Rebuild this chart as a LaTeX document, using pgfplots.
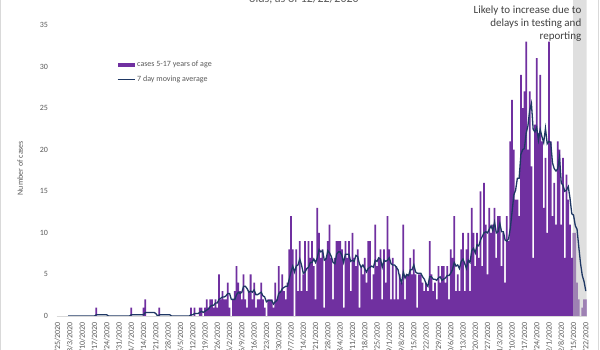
\documentclass[border=0pt]{standalone}
\usepackage{pgfplots}
\pgfplotsset{compat=1.18}
\usepackage{fontspec}
\setmainfont{Carlito}
\definecolor{barpurple}{HTML}{7030A0}
\definecolor{manavy}{HTML}{1F3864}
\definecolor{txtgray}{HTML}{595959}
\definecolor{annogray}{HTML}{404040}
\definecolor{shade}{HTML}{C4C4C4}
\definecolor{axisgray}{HTML}{D9D9D9}
\begin{document}
\begin{tikzpicture}[x=1pt,y=1pt]
\begin{axis}[
  scale only axis,
  width=530pt, height=316pt,
  xmin=-0.5, xmax=301.5, ymin=0, ymax=38,
  enlargelimits=false,
  /pgf/number format/assume math mode=true,
  axis x line*=bottom, axis y line*=left,
  y axis line style={draw=none},
  x axis line style={draw=axisgray, line width=0.8pt, -},
  major tick length=0pt,
  ytick={0,5,...,35},
  xtick={0,7,...,301},
  xticklabels={2/25/2020,3/3/2020,3/10/2020,3/17/2020,3/24/2020,3/31/2020,4/7/2020,4/14/2020,4/21/2020,4/28/2020,5/5/2020,5/12/2020,5/19/2020,5/26/2020,6/2/2020,6/9/2020,6/16/2020,6/23/2020,6/30/2020,7/7/2020,7/14/2020,7/21/2020,7/28/2020,8/4/2020,8/11/2020,8/18/2020,8/25/2020,9/1/2020,9/8/2020,9/15/2020,9/22/2020,9/29/2020,10/6/2020,10/13/2020,10/20/2020,10/27/2020,11/3/2020,11/10/2020,11/17/2020,11/24/2020,12/1/2020,12/8/2020,12/15/2020,12/22/2020},
  xticklabel style={rotate=90, anchor=east, inner xsep=6pt, inner ysep=0pt, font=\fontsize{8}{9.6}\selectfont, text=txtgray},
  yticklabel style={anchor=east, inner xsep=8.5pt, inner ysep=0pt, font=\fontsize{8}{9.6}\selectfont, text=txtgray},
  ylabel={Number of cases},
  every axis y label/.style={at={(axis description cs:-0.069,0.468)}, rotate=90, anchor=center, font=\fontsize{8}{9.6}\selectfont, text=txtgray},
  legend style={at={(axis description cs:0.1132,0.808)}, anchor=north west, draw=none, fill=none, inner sep=0pt,
    font=\fontsize{8}{9.6}\selectfont, text=txtgray, row sep=6.5pt, nodes={inner xsep=2pt, inner ysep=0.5pt}},
  legend cell align=left,
]
\addplot[ybar, bar width=1, bar shift=0pt, fill=barpurple, draw=none,
  legend image code/.code={\fill[barpurple] (0pt,-1.7pt) rectangle (17pt,1.7pt);}]
coordinates {(22,1)(42,1)(49,1)(50,2)(58,1)(76,1)(78,1)(81,1)(82,1)(84,1)(85,2)(86,1)(87,2)(88,2)(89,1)(90,2)(91,1)(92,5)(93,2)(94,3)(95,2)(96,2)(97,4)(98,1)(100,2)(101,3)(102,6)(103,4)(104,3)(105,2)(106,5)(107,2)(108,1)(109,3)(110,5)(111,2)(112,4)(113,1)(114,2)(115,2)(116,4)(117,2)(118,1)(120,2)(121,2)(122,2)(123,1)(124,4)(125,2)(126,6)(127,3)(128,5)(129,3)(130,2)(131,4)(132,8)(133,12)(134,8)(136,8)(137,3)(138,9)(139,3)(140,5)(141,9)(142,3)(143,9)(144,7)(145,9)(146,6)(147,2)(148,13)(149,10)(150,7)(151,8)(152,1)(153,7)(154,9)(155,11)(156,7)(157,2)(158,7)(159,9)(160,9)(161,9)(162,8)(163,1)(164,9)(165,7)(166,9)(167,3)(168,10)(169,7)(170,6)(171,8)(172,1)(173,6)(174,5)(175,7)(176,4)(177,9)(178,9)(179,2)(180,5)(181,11)(182,6)(183,7)(184,8)(185,2)(186,8)(187,4)(188,12)(189,8)(190,2)(191,7)(192,2)(193,6)(194,2)(195,5)(196,4)(197,11)(198,2)(199,5)(200,5)(201,7)(202,5)(203,8)(204,5)(205,1)(206,5)(207,5)(208,4)(209,3)(210,4)(211,3)(212,9)(213,5)(214,3)(215,4)(216,2)(217,6)(218,4)(219,6)(220,6)(221,4)(222,6)(223,2)(224,8)(225,7)(226,12)(227,3)(228,5)(229,3)(230,8)(231,10)(232,3)(233,8)(234,10)(235,3)(236,13)(237,10)(238,6)(239,10)(240,7)(241,15)(242,6)(243,16)(244,11)(245,5)(246,13)(247,10)(248,11)(249,13)(250,7)(251,12)(252,12)(253,6)(254,10)(255,4)(256,12)(257,9)(258,21)(259,26)(260,20)(261,14)(262,14)(263,12)(264,29)(265,25)(266,27)(267,33)(268,20)(269,27)(270,18)(271,7)(272,23)(273,31)(274,22)(275,29)(276,21)(277,13)(278,19)(279,10)(280,33)(281,21)(282,12)(283,16)(284,11)(285,21)(286,20)(287,11)(288,19)(289,7)(290,17)(291,14)(292,11)(293,7)(294,10)(295,10)(296,4)(297,2)(299,1)(300,2)(301,2)};
\addlegendentry{cases 5-17 years of age}
\addplot[fill=shade, fill opacity=0.55, draw=none, forget plot] coordinates {(293.5,38) (301.5,38)} \closedcycle;
\addplot[manavy, line width=1.3pt, no markers,
  legend image code/.code={\draw[manavy, line width=1.3pt] (0pt,0pt) -- (17pt,0pt);}]
coordinates {(6,0)(21,0)(22,0.14)(28,0.14)(29,0)(41,0)(42,0.14)(49,0.14)(50,0.43)(55,0.43)(56,0.29)(57,0)(58,0.14)(64,0.14)(65,0)(75,0)(76,0.14)(77,0.14)(78,0.29)(79,0.29)(80,0.29)(81,0.43)(82,0.57)(83,0.43)(84,0.57)(85,0.71)(86,0.86)(87,1.14)(88,1.29)(89,1.29)(90,1.57)(91,1.57)(92,2.0)(93,2.14)(94,2.29)(95,2.29)(96,2.43)(97,2.71)(98,2.71)(99,2.0)(100,2.0)(101,2.0)(102,2.57)(103,2.86)(104,2.71)(105,2.86)(106,3.57)(107,3.57)(108,3.29)(109,2.86)(110,3.0)(111,2.86)(112,3.14)(113,2.57)(114,2.57)(115,2.71)(116,2.86)(117,2.43)(118,2.29)(119,1.71)(120,1.86)(121,1.86)(122,1.86)(123,1.43)(124,1.71)(125,1.86)(126,2.71)(127,2.86)(128,3.29)(129,3.43)(130,3.57)(131,3.57)(132,4.43)(133,5.29)(134,6.0)(135,5.29)(136,6.0)(137,6.14)(138,6.86)(139,6.14)(140,5.14)(141,5.29)(142,5.71)(143,5.86)(144,6.43)(145,6.43)(146,6.86)(147,6.43)(148,7.0)(149,8.0)(150,7.71)(151,7.86)(152,6.71)(153,6.86)(154,7.86)(155,7.57)(156,7.14)(157,6.43)(158,6.29)(159,7.43)(160,7.71)(161,7.71)(162,7.29)(163,6.43)(164,7.43)(165,7.43)(166,7.43)(167,6.57)(168,6.71)(169,6.57)(170,7.29)(171,7.14)(172,6.29)(173,5.86)(174,6.14)(175,5.71)(176,5.29)(177,5.71)(178,5.86)(179,6.0)(180,5.86)(181,6.71)(182,6.57)(183,7.0)(184,6.86)(185,5.86)(186,6.71)(187,6.57)(188,6.71)(189,7.0)(190,6.29)(191,6.14)(192,6.14)(193,5.86)(194,5.57)(195,4.57)(196,4.0)(197,5.29)(198,4.57)(199,5.0)(200,4.86)(201,5.57)(202,5.57)(203,6.14)(204,5.29)(205,5.14)(206,5.14)(207,5.14)(208,4.71)(209,4.43)(210,3.86)(211,3.57)(212,4.71)(213,4.71)(214,4.43)(215,4.43)(216,4.29)(217,4.57)(218,4.71)(219,4.29)(220,4.43)(221,4.57)(222,4.86)(223,4.86)(224,5.14)(225,5.57)(226,6.43)(227,6.0)(228,6.14)(229,5.71)(230,6.57)(231,6.86)(232,6.29)(233,5.71)(234,6.71)(235,6.43)(236,7.86)(237,8.14)(238,7.57)(239,8.57)(240,8.43)(241,9.14)(242,9.57)(243,10.0)(244,10.14)(245,10.0)(246,10.43)(247,10.86)(248,10.29)(249,11.29)(250,10.0)(251,10.14)(252,11.14)(253,10.14)(254,10.14)(255,9.14)(256,9.0)(257,9.29)(258,10.57)(259,12.57)(260,14.57)(261,15.14)(262,16.57)(263,16.57)(264,19.43)(265,20.0)(266,20.14)(267,22.0)(268,22.86)(269,24.71)(270,25.57)(271,22.43)(272,22.14)(273,22.71)(274,21.14)(275,22.43)(276,21.57)(277,20.86)(278,22.57)(279,20.71)(280,21.0)(281,20.86)(282,18.43)(283,17.71)(284,17.43)(285,17.71)(286,19.14)(287,16.0)(288,15.71)(289,15.0)(290,15.14)(291,15.57)(292,14.14)(293,12.29)(294,12.14)(295,10.86)(296,10.43)(297,8.29)(298,6.29)(299,4.86)(300,4.14)(301,3.0)};
\addlegendentry{7 day moving average}
\coordinate (O) at (axis cs:-0.5,0);
\end{axis}
\pgfresetboundingbox
\path[use as bounding box] ([shift={(-56.7,-34)}]O) rectangle ([shift={(543.3,316)}]O);
\draw[axisgray, line width=0.8pt] ([shift={(-55.9,-44)}]O) -- ([shift={(-55.9,326)}]O);
\draw[axisgray, line width=0.8pt] ([shift={(541.9,-44)}]O) -- ([shift={(541.9,326)}]O);
\node[anchor=base, font=\fontsize{12}{14}\selectfont, text=txtgray] at ([shift={(247.3,328)}]O) {Daily COVID-19 cases among 5-17 year};
\node[anchor=base, font=\fontsize{12}{14}\selectfont, text=txtgray] at ([shift={(247.3,313.5)}]O) {olds, as of 12/22/2020};
\node[anchor=base east, inner sep=0pt, font=\fontsize{11}{13}\selectfont, text=annogray] at ([shift={(524.8,302.7)}]O) {Likely to increase due to};
\node[anchor=base east, inner sep=0pt, font=\fontsize{11}{13}\selectfont, text=annogray] at ([shift={(524.8,289.4)}]O) {delays in testing and};
\node[anchor=base east, inner sep=0pt, font=\fontsize{11}{13}\selectfont, text=annogray] at ([shift={(524.8,276.1)}]O) {reporting};
\end{tikzpicture}
\end{document}
